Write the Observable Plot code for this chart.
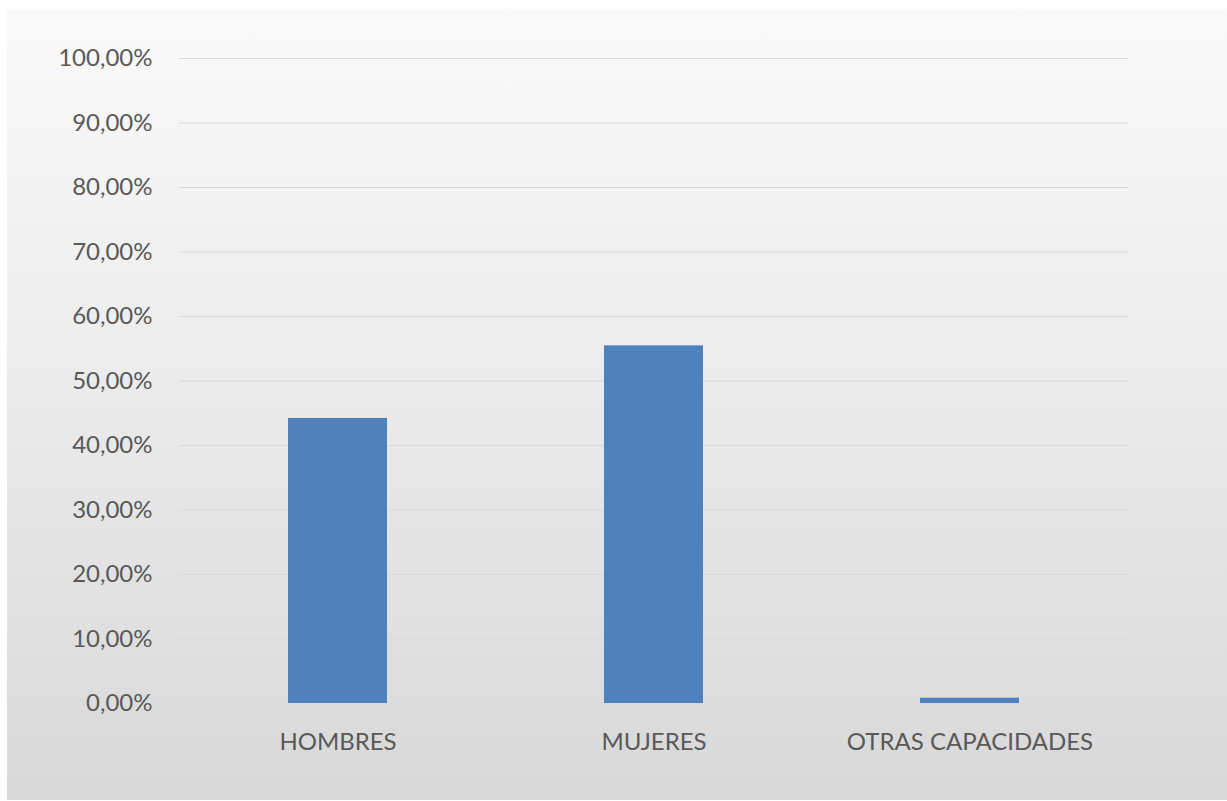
<!DOCTYPE html>
<html>
<head>
<meta charset="utf-8">
<script src="https://cdn.jsdelivr.net/npm/d3@7"></script>
<script src="https://cdn.jsdelivr.net/npm/@observablehq/plot@0.6"></script>
<style>
  html, body { margin: 0; padding: 0; background: #ffffff; }
  #panel { position: absolute; left: 7px; top: 9px; width: 1220px; height: 791px;
           background: linear-gradient(to bottom, #fafafa 0%, #ececec 45%, #d8d8d8 100%); }
  #chart { position: absolute; left: 0; top: 0; }
</style>
</head>
<body>
<div id="panel"></div>
<div id="chart"></div>
<script>
const categories = ["HOMBRES", "MUJERES", "OTRAS CAPACIDADES"];
const values = [44.2, 55.45, 0.82];
const yTicks = [0, 10, 20, 30, 40, 50, 60, 70, 80, 90, 100];

const data = categories.map((c, i) => ({category: c, value: values[i]}));
const fmt = d => d.toFixed(2).replace(".", ",") + "%";

const chart = Plot.plot({
  width: 1227,
  height: 801,
  marginLeft: 179,
  marginRight: 99,
  marginTop: 58,
  marginBottom: 98,
  style: {background: "transparent", fontFamily: "Lato, 'Open Sans', sans-serif", fontSize: "24px", color: "#595959"},
  x: {domain: categories, paddingInner: 0.687, paddingOuter: 0.3435, label: null},
  y: {domain: [0, 100], ticks: yTicks, label: null},
  marks: [
    Plot.gridY(yTicks, {stroke: "#d9d9d9", strokeOpacity: 1, strokeWidth: 1.2}),
    Plot.barY(data, {x: "category", y: "value", fill: "#4f81bd"}),
    Plot.axisY(yTicks, {tickSize: 0, tickPadding: 27, tickFormat: fmt, fill: "#595959", fontSize: 24}),
    Plot.axisX({tickSize: 0, tickPadding: 29, fill: "#595959", fontSize: 24})
  ]
});
document.getElementById("chart").appendChild(chart);
</script>
</body>
</html>
